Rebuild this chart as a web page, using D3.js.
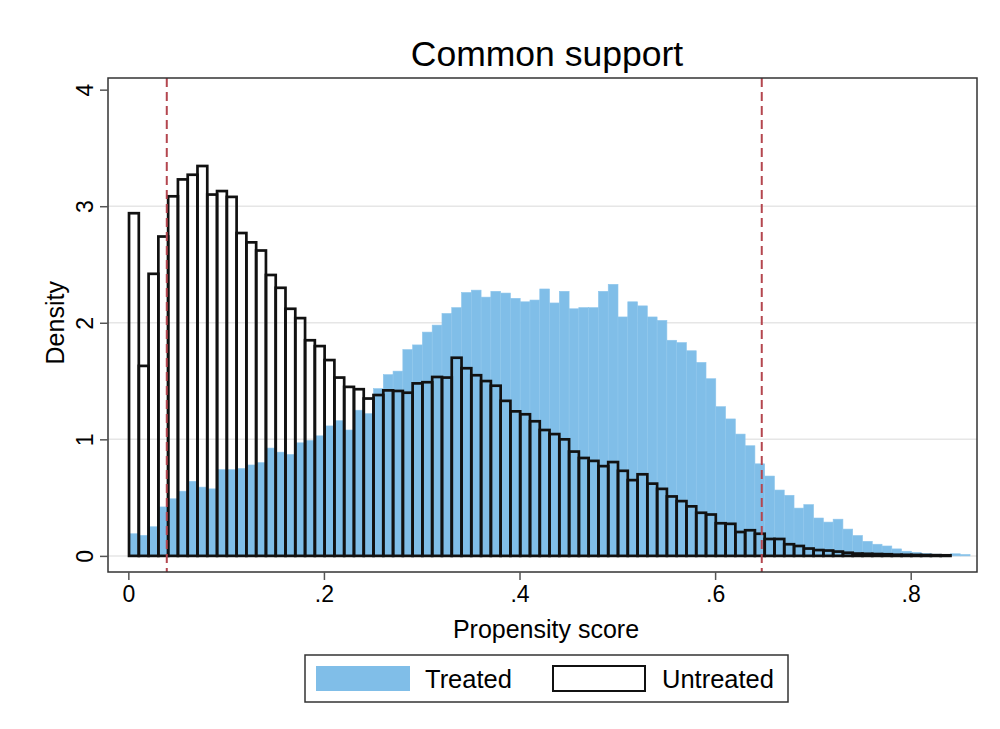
<!DOCTYPE html>
<html>
<head>
<meta charset="utf-8">
<script src="https://cdn.jsdelivr.net/npm/d3@7"></script>
<style>
    body { margin: 0; background: #fff; }
    svg { display: block; font-family: "Liberation Sans", Arial, sans-serif; }
</style>
</head>
<body>
<div id="chart"></div>
<script>

// histogram bins (width .01, starting just above 0)
const bin_start = 0.0007;
const bin_width = 0.01;

const treated = [
    0.19, 0.176, 0.25, 0.42, 0.49, 0.555, 0.64, 0.59, 0.575, 0.74,
    0.74, 0.75, 0.78, 0.80, 0.925, 0.89, 0.87, 0.97, 0.99, 1.03,
    1.115, 1.16, 1.08, 1.25, 1.22, 1.435, 1.555, 1.585, 1.77, 1.81,
    1.92, 1.98, 2.08, 2.13, 2.26, 2.28, 2.22, 2.27, 2.255, 2.21,
    2.18, 2.195, 2.29, 2.17, 2.27, 2.12, 2.13, 2.13, 2.27, 2.33,
    2.05, 2.18, 2.145, 2.05, 2.02, 1.85, 1.83, 1.76, 1.66, 1.52,
    1.28, 1.175, 1.045, 0.945, 0.79, 0.685, 0.565, 0.52, 0.41, 0.44,
    0.325, 0.29, 0.315, 0.23, 0.175, 0.125, 0.10, 0.085, 0.06, 0.04,
    0.03, 0.02, 0.015, 0.01, 0.018, 0.012
];

const untreated = [
    2.94, 1.63, 2.42, 2.74, 3.085, 3.23, 3.27, 3.345, 3.10, 3.13,
    3.08, 2.77, 2.69, 2.62, 2.41, 2.30, 2.12, 2.04, 1.85, 1.80,
    1.68, 1.53, 1.45, 1.43, 1.35, 1.38, 1.42, 1.415, 1.40, 1.48,
    1.49, 1.535, 1.53, 1.70, 1.61, 1.55, 1.50, 1.46, 1.33, 1.24,
    1.215, 1.155, 1.08, 1.045, 1.00, 0.895, 0.84, 0.815, 0.77, 0.805,
    0.73, 0.65, 0.70, 0.62, 0.575, 0.51, 0.47, 0.425, 0.37, 0.355,
    0.28, 0.275, 0.205, 0.22, 0.19, 0.145, 0.145, 0.10, 0.085, 0.063,
    0.05, 0.046, 0.037, 0.027, 0.02, 0.018, 0.016, 0.014, 0.01, 0.009,
    0.008, 0.007, 0.006, 0.005
];

// common support bounds
const support = [0.0393, 0.6477];

const x_ticks = [0, 0.2, 0.4, 0.6, 0.8];
const x_tick_labels = ["0", ".2", ".4", ".6", ".8"];
const y_ticks = [0, 1, 2, 3, 4];
const grid_values = [0, 1, 2, 3];

const blue = "#80bee8";

const margin = {top: 78, right: 23, bottom: 157, left: 108};
const full_width = 1000, full_height = 729;
const width = full_width - margin.left - margin.right;
const height = full_height - margin.top - margin.bottom;

const svg = d3.select("#chart")
    .append("svg")
    .attr("width", full_width)
    .attr("height", full_height);

const g = svg.append("g")
    .attr("transform", "translate(" + margin.left + "," + margin.top + ")");

const x = d3.scaleLinear()
    .domain([-0.0208, 0.8678])
    .range([0, width]);

const y = d3.scaleLinear()
    .domain([-0.1382, 4.1])
    .range([height, 0]);

const toBins = values => values.map((v, i) => ({
    x0: bin_start + i * bin_width,
    x1: bin_start + (i + 1) * bin_width,
    v: v
}));

// grid
g.append("g")
    .selectAll("line")
    .data(grid_values)
    .enter()
    .append("line")
    .attr("x1", 0).attr("x2", width)
    .attr("y1", d => y(d)).attr("y2", d => y(d))
    .attr("stroke", "#e6e6e6")
    .attr("stroke-width", 1.5);

// treated bars
g.append("g")
    .selectAll("rect")
    .data(toBins(treated))
    .enter()
    .append("rect")
    .attr("x", d => x(d.x0))
    .attr("width", d => x(d.x1) - x(d.x0))
    .attr("y", d => y(d.v))
    .attr("height", d => y(0) - y(d.v))
    .attr("fill", blue)
    .attr("stroke", "#8ec6ec")
    .attr("stroke-width", 0.6);

// untreated bars (outline only)
g.append("g")
    .selectAll("rect")
    .data(toBins(untreated))
    .enter()
    .append("rect")
    .attr("x", d => x(d.x0))
    .attr("width", d => x(d.x1) - x(d.x0))
    .attr("y", d => y(d.v))
    .attr("height", d => y(0) - y(d.v))
    .attr("fill", "none")
    .attr("stroke", "#111")
    .attr("stroke-width", 2.7);

// common support lines
g.append("g")
    .selectAll("line")
    .data(support)
    .enter()
    .append("line")
    .attr("x1", d => x(d)).attr("x2", d => x(d))
    .attr("y1", 0).attr("y2", height)
    .attr("stroke", "#b4464f")
    .attr("stroke-width", 2)
    .attr("stroke-dasharray", "9,5");

// plot frame
g.append("rect")
    .attr("width", width)
    .attr("height", height)
    .attr("fill", "none")
    .attr("stroke", "#333")
    .attr("stroke-width", 1.5);

// x axis
const x_axis = g.append("g")
    .attr("transform", "translate(0," + height + ")")
    .call(d3.axisBottom(x)
        .tickValues(x_ticks)
        .tickFormat((d, i) => x_tick_labels[i])
        .tickSize(8)
        .tickPadding(6))
    .call(a => a.select(".domain").remove());
x_axis.selectAll(".tick line").attr("stroke", "#555").attr("stroke-width", 1.5);
x_axis.selectAll(".tick text")
    .attr("font-size", 23)
    .attr("font-family", "Liberation Sans, Arial, sans-serif")
    .attr("fill", "#000");

// y axis, labels rotated like Stata
const y_axis = g.append("g")
    .call(d3.axisLeft(y)
        .tickValues(y_ticks)
        .tickFormat(d3.format("d"))
        .tickSize(8))
    .call(a => a.select(".domain").remove());
y_axis.selectAll(".tick line").attr("stroke", "#555").attr("stroke-width", 1.5);
y_axis.selectAll(".tick text")
    .attr("x", null).attr("dy", null)
    .attr("transform", "translate(-15,0) rotate(-90)")
    .attr("text-anchor", "middle")
    .attr("font-size", 23)
    .attr("font-family", "Liberation Sans, Arial, sans-serif")
    .attr("fill", "#000");

// titles
svg.append("text")
    .attr("x", 547).attr("y", 66)
    .attr("text-anchor", "middle")
    .attr("font-size", 35.5)
    .text("Common support");

svg.append("text")
    .attr("x", 546).attr("y", 638)
    .attr("text-anchor", "middle")
    .attr("font-size", 25)
    .text("Propensity score");

svg.append("text")
    .attr("transform", "translate(64," + (margin.top + y(2)) + ") rotate(-90)")
    .attr("text-anchor", "middle")
    .attr("font-size", 25)
    .text("Density");

// legend
const legend = svg.append("g").attr("transform", "translate(305,655)");
legend.append("rect")
    .attr("width", 483).attr("height", 47)
    .attr("fill", "#fff")
    .attr("stroke", "#333")
    .attr("stroke-width", 1.5);
legend.append("rect")
    .attr("x", 11).attr("y", 11)
    .attr("width", 94).attr("height", 25)
    .attr("fill", blue);
legend.append("text")
    .attr("x", 120).attr("y", 33)
    .attr("font-size", 25.5)
    .text("Treated");
legend.append("rect")
    .attr("x", 248).attr("y", 11)
    .attr("width", 92).attr("height", 25)
    .attr("fill", "none")
    .attr("stroke", "#111")
    .attr("stroke-width", 2);
legend.append("text")
    .attr("x", 357).attr("y", 33)
    .attr("font-size", 25.5)
    .text("Untreated");

</script>
</body>
</html>
